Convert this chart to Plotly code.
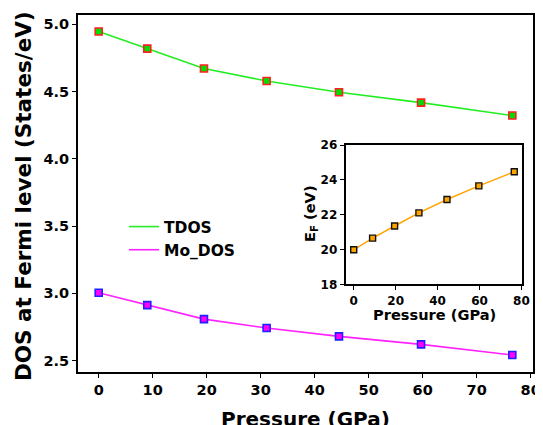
import plotly.graph_objects as go

# Data
pressure = [0, 9.0, 19.5, 31.1, 44.5, 59.7, 76.6]
tdos = [4.946, 4.819, 4.671, 4.579, 4.495, 4.418, 4.322]
mo_dos = [3.005, 2.913, 2.809, 2.743, 2.681, 2.621, 2.542]
ef = [19.98, 20.65, 21.35, 22.10, 22.87, 23.65, 24.46]

x_ticks = [0, 10, 20, 30, 40, 50, 60, 70, 80]
y_ticks = [2.5, 3.0, 3.5, 4.0, 4.5, 5.0]
inset_x_ticks = [0, 20, 40, 60, 80]
inset_y_ticks = [18, 20, 22, 24, 26]

FONT = "DejaVu Sans"
OFF = 8  # default page body margin
W, H = 543 - OFF, 425 - OFF
ML, MR, MT, MB = 78 - OFF, 10, 15 - OFF, 53
PW, PH = W - ML - MR, H - MT - MB

def px_x(p):  # page pixel -> paper fraction
    return (p - OFF - ML) / PW

def px_y(p):
    return (H - MB - (p - OFF)) / PH

fig = go.Figure()

# Main lines (legend entries)
fig.add_trace(go.Scatter(x=pressure, y=tdos, mode="lines", name="<b>TDOS</b>",
                         line=dict(color="#22ee22", width=1.6)))
fig.add_trace(go.Scatter(x=pressure, y=mo_dos, mode="lines", name="<b>Mo_DOS</b>",
                         line=dict(color="#ff22ff", width=1.6)))
# Markers
fig.add_trace(go.Scatter(x=pressure, y=tdos, mode="markers", showlegend=False,
                         marker=dict(symbol="square", size=7, color="#00dd00",
                                     line=dict(color="#ff2020", width=1.6))))
fig.add_trace(go.Scatter(x=pressure, y=mo_dos, mode="markers", showlegend=False,
                         marker=dict(symbol="square", size=7, color="#ff00ff",
                                     line=dict(color="#2020ff", width=1.6))))

# Inset
fig.add_trace(go.Scatter(x=pressure, y=ef, mode="lines+markers", showlegend=False,
                         xaxis="x2", yaxis="y2",
                         line=dict(color="#ffa500", width=1.5),
                         marker=dict(symbol="square", size=6, color="#ffa500",
                                     line=dict(color="#111111", width=1.4))))

axis_common = dict(showgrid=False, zeroline=False, showline=True, linecolor="black",
                   linewidth=2, mirror=True, ticks="outside", ticklen=4, tickwidth=1.3,
                   tickcolor="black", automargin=False)

annotations = [
    dict(text="<b>Pressure (GPa)</b>", x=px_x(305), y=px_y(419), xref="paper", yref="paper",
         xanchor="center", yanchor="middle", showarrow=False, font=dict(size=20)),
    dict(text="<b>DOS at Fermi level (States/eV)</b>", x=px_x(23), y=px_y(196),
         xref="paper", yref="paper", xanchor="center", yanchor="middle", textangle=-90,
         showarrow=False, font=dict(size=21.5)),
    dict(text="<b>Pressure (GPa)</b>", x=px_x(434), y=px_y(314), xref="paper", yref="paper",
         xanchor="center", yanchor="middle", showarrow=False, font=dict(size=14.6)),
    dict(text="<b>E<sub>F</sub> (eV)</b>", x=px_x(310), y=px_y(214), xref="paper", yref="paper",
         xanchor="center", yanchor="middle", textangle=-90, showarrow=False,
         font=dict(size=14.6)),
]

fig.update_layout(
    width=W, height=H,
    margin=dict(l=ML, r=MR, t=MT, b=MB),
    paper_bgcolor="white", plot_bgcolor="white",
    font=dict(family=FONT, color="black"),
    xaxis=dict(range=[-3.83, 80.43], tickvals=x_ticks,
               ticktext=[f"<b>{v}</b>" for v in x_ticks],
               tickfont=dict(size=14.5), **axis_common),
    yaxis=dict(range=[2.416, 5.069], tickvals=y_ticks,
               ticktext=[f"<b>{v:.1f}</b>" for v in y_ticks],
               tickfont=dict(size=14.5), **axis_common),
    xaxis2=dict(domain=[px_x(345.7), px_x(522.3)], anchor="y2", range=[-3.83, 80.43],
                tickvals=inset_x_ticks, ticktext=[f"<b>{v}</b>" for v in inset_x_ticks],
                tickfont=dict(size=12), **axis_common),
    yaxis2=dict(domain=[px_y(284.3), px_y(145)], anchor="x2", range=[18, 26],
                tickvals=inset_y_ticks, ticktext=[f"<b>{v}</b>" for v in inset_y_ticks],
                tickfont=dict(size=12), **axis_common),
    legend=dict(x=px_x(124), y=px_y(210), xanchor="left", yanchor="top",
                bgcolor="rgba(0,0,0,0)", font=dict(size=15.5), itemwidth=30,
                tracegroupgap=2),
    annotations=annotations,
    showlegend=True,
)

fig.write_html("out.html")
